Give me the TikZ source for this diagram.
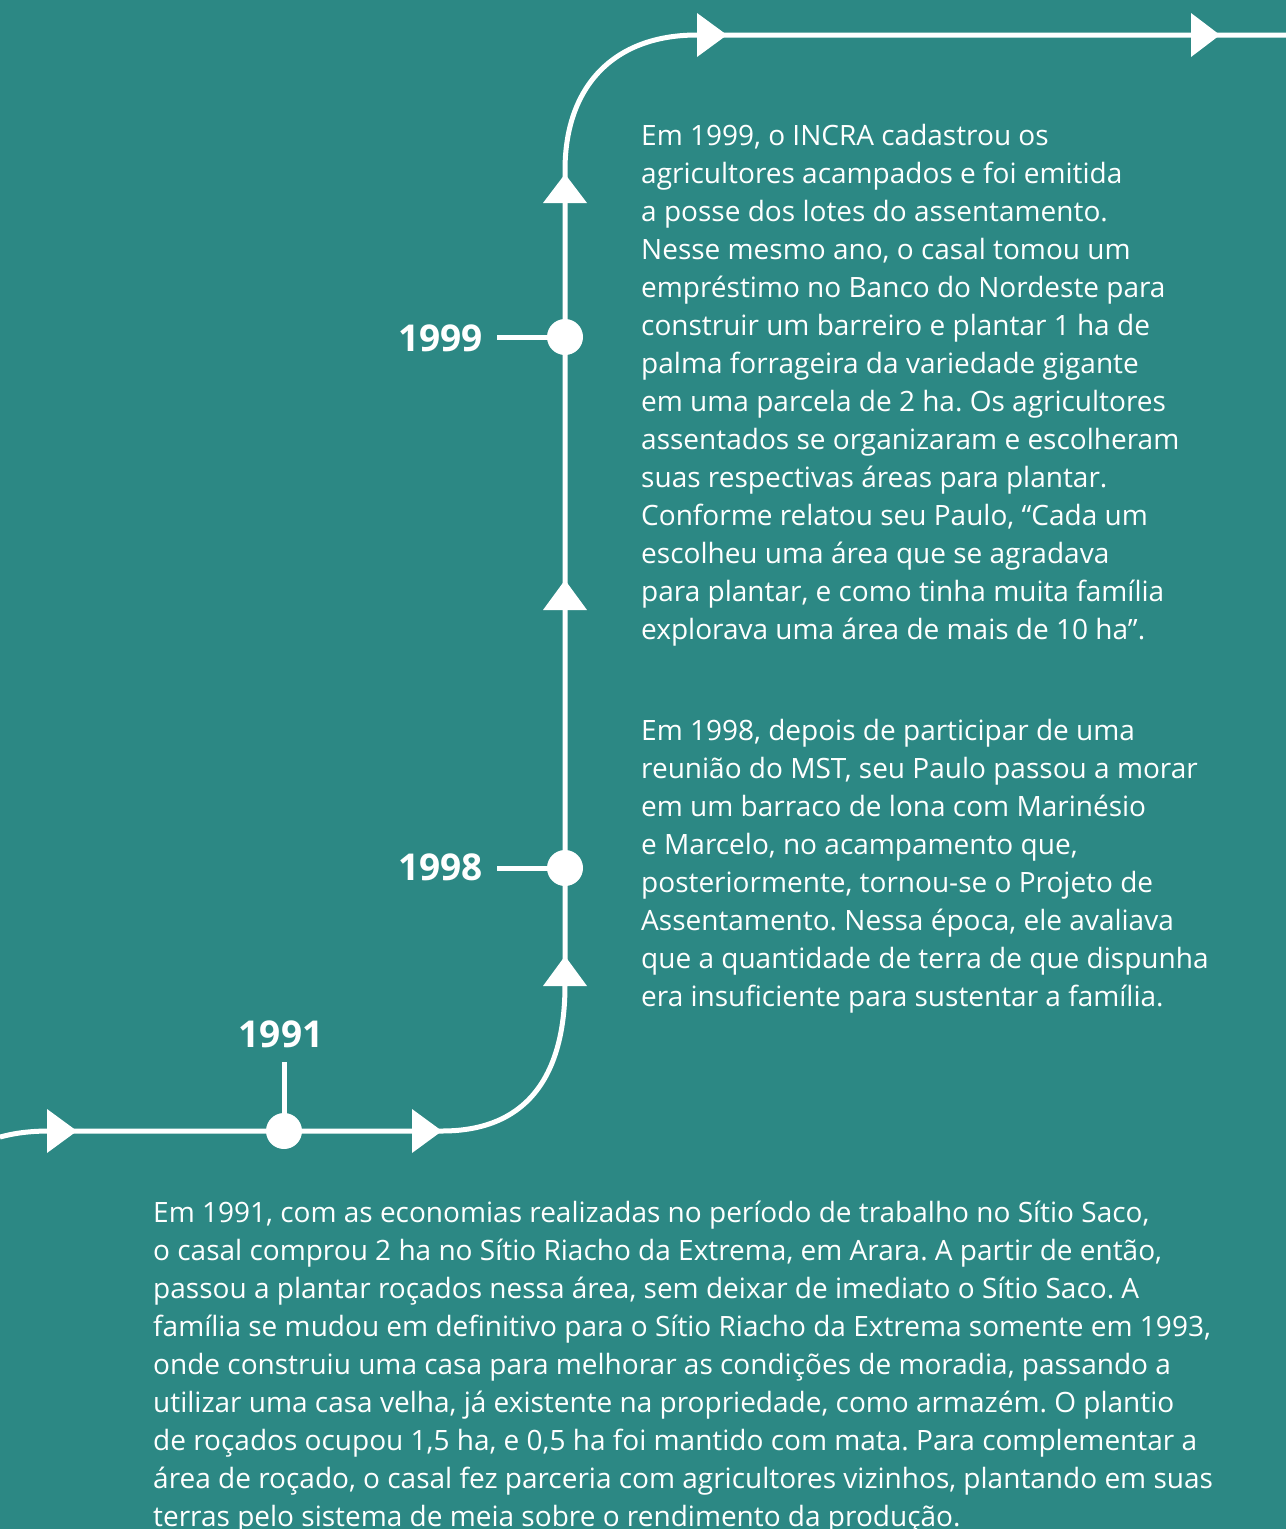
\documentclass[tikz,border=0pt]{standalone}
\usepackage{fontspec}
\setmainfont{Open Sans}
\definecolor{bgteal}{RGB}{44,136,132}
\frenchspacing
\begin{document}
\begin{tikzpicture}[x=1pt,y=-1pt,
  tline/.style={draw=white,line width=5pt},
  tipR/.style={fill=white},
  yeardot/.style={circle,fill=white,minimum size=36pt,inner sep=0pt},
  yearlbl/.style={text=white,font=\fontsize{37}{44}\selectfont\bfseries,inner sep=0pt},
  body/.style={text=white,font=\fontsize{28}{38}\selectfont\frenchspacing,align=left,inner sep=0pt,anchor=north west}]
\fill[bgteal] (0,0) rectangle (1286,1529);
\useasboundingbox (0,0) rectangle (1286,1529);
\clip (0,0) rectangle (1286,1529);
% path coordinates
\coordinate (s0) at (0,1137);
\coordinate (h1) at (50,1131);
\coordinate (h2) at (442,1131);
\coordinate (v1) at (565,985);
\coordinate (v2) at (565,170);
\coordinate (t1) at (697,35);
\coordinate (t2) at (1286,35);
\draw[tline] (s0) .. controls (15,1133) and (30,1131) .. (h1) -- (h2)
  .. controls (530,1131) and (565,1072) .. (v1) -- (v2)
  .. controls (565,88) and (612,35) .. (t1) -- (t2);
% arrow heads
\fill[tipR] (47,1109) -- (77,1131) -- (47,1153) -- cycle;
\fill[tipR] (412,1109) -- (442,1131) -- (412,1153) -- cycle;
\fill[tipR] (543,986) -- (565,956) -- (587,986) -- cycle;
\fill[tipR] (543,610) -- (565,580) -- (587,610) -- cycle;
\fill[tipR] (543,203) -- (565,174) -- (587,203) -- cycle;
\fill[tipR] (697,13) -- (727,35) -- (697,57) -- cycle;
\fill[tipR] (1191,13) -- (1220,35) -- (1191,57) -- cycle;
% year markers
\node[yeardot] (d91) at (284,1131) {};
\node[yeardot] (d98) at (565,868) {};
\node[yeardot] (d99) at (565,337) {};
\coordinate (k91) at (284,1062);
\coordinate (k98) at (497,868);
\coordinate (k99) at (497,337);
\draw[tline] (d91.center) -- (k91);
\draw[tline] (d98.center) -- (k98);
\draw[tline] (d99.center) -- (k99);
\node[yearlbl,anchor=east] (y99) at (483,338) {1999};
\node[yearlbl,anchor=east] (y98) at (483,867) {1998};
\node[yearlbl] (y91) at (281,1034) {1991};
% texts
\node[body] (b99) at (641,124) {Em 1999, o INCRA cadastrou os\\
agricultores acampados e foi emitida\\
a posse dos lotes do assentamento.\\
Nesse mesmo ano, o casal tomou um\\
empréstimo no Banco do Nordeste para\\
construir um barreiro e plantar 1 ha de\\
palma forrageira da variedade gigante\\
em uma parcela de 2 ha. Os agricultores\\
assentados se organizaram e escolheram\\
suas respectivas áreas para plantar.\\
Conforme relatou seu Paulo, “Cada um\\
escolheu uma área que se agradava\\
para plantar, e como tinha muita família\\
explorava uma área de mais de 10 ha”.};
\node[body] (b98) at (641,719) {Em 1998, depois de participar de uma\\
reunião do MST, seu Paulo passou a morar\\
em um barraco de lona com Marinésio\\
e Marcelo, no acampamento que,\\
posteriormente, tornou-se o Projeto de\\
Assentamento. Nessa época, ele avaliava\\
que a quantidade de terra de que dispunha\\
era insuficiente para sustentar a família.};
\node[body] (b91) at (153,1201) {Em 1991, com as economias realizadas no período de trabalho no Sítio Saco,\\
o casal comprou 2 ha no Sítio Riacho da Extrema, em Arara. A partir de então,\\
passou a plantar roçados nessa área, sem deixar de imediato o Sítio Saco. A\\
família se mudou em definitivo para o Sítio Riacho da Extrema somente em 1993,\\
onde construiu uma casa para melhorar as condições de moradia, passando a\\
utilizar uma casa velha, já existente na propriedade, como armazém. O plantio\\
de roçados ocupou 1,5 ha, e 0,5 ha foi mantido com mata. Para complementar a\\
área de roçado, o casal fez parceria com agricultores vizinhos, plantando em suas\\
terras pelo sistema de meia sobre o rendimento da produção.};
\end{tikzpicture}
\end{document}
